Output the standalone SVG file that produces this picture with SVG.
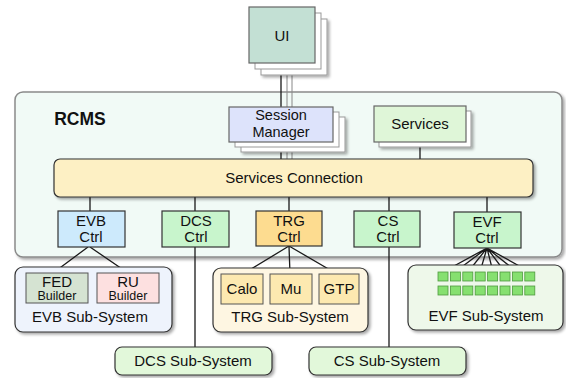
<svg xmlns="http://www.w3.org/2000/svg" width="566" height="378" viewBox="0 0 566 378">
<defs>
<filter id="sh" x="-10%" y="-10%" width="130%" height="140%">
<feGaussianBlur in="SourceAlpha" stdDeviation="1.5"/>
<feOffset dx="2" dy="2" result="b"/>
<feComponentTransfer><feFuncA type="linear" slope="0.35"/></feComponentTransfer>
<feMerge><feMergeNode/><feMergeNode in="SourceGraphic"/></feMerge>
</filter>
</defs>
<style>
text{font-family:"Liberation Sans",Arial,sans-serif;fill:#111;text-anchor:middle}
.t{font-size:15px}
.m{font-size:14.5px}
.s{font-size:12.5px}
.box{stroke:#333;stroke-width:1.2}
.back{fill:#fff;stroke:#999;stroke-width:1}
.ln{stroke:#1a1a1a;stroke-width:1.3;fill:none}
.lg{stroke:#888;stroke-width:1;fill:none}
.sq{fill:#86e070;stroke:#4f9a3f;stroke-width:0.8}
</style>
<rect width="566" height="378" fill="#fff"/>
<g id="rcms">
<rect x="15" y="92" width="547" height="165" rx="8" fill="#f1faf6" stroke="#8a8a8a" stroke-width="1.5" filter="url(#sh)"/>
<text x="80" y="125" style="font-size:17.5px;font-weight:bold">RCMS</text>
</g>
<g id="connectors">
<line class="lg" x1="292" y1="75" x2="292" y2="159"/>
<line class="lg" x1="287" y1="69" x2="287" y2="159"/>
<line class="ln" x1="281" y1="63" x2="281" y2="159"/>
<line class="ln" x1="420" y1="142" x2="420" y2="159"/>
<line class="ln" x1="90" y1="197" x2="90" y2="211"/>
<line class="ln" x1="195" y1="197" x2="195" y2="347"/>
<line class="ln" x1="289" y1="197" x2="289" y2="211"/>
<line class="ln" x1="389" y1="197" x2="389" y2="347"/>
<line class="ln" x1="487" y1="197" x2="487" y2="212"/>
<path class="ln" d="M88 247L53 273M90 247L128 273"/>
<path class="ln" d="M289 246L243 274M289 246L290 274M289 246L337 274"/>
<path class="ln" stroke-width="1" d="M487 248L443 272M487 248L455 272M487 248L468 272M487 248L480 272M487 248L493 272M487 248L505 272M487 248L517 272M487 248L530 272"/>
</g>
<g id="ui">
<rect class="back" x="261" y="19" width="66" height="56" filter="url(#sh)"/>
<rect class="back" x="255" y="13" width="66" height="56"/>
<rect x="249" y="7" width="66" height="56" fill="#c3e0d4" stroke="#666" stroke-width="1.2"/>
<text class="t" x="282" y="41">UI</text>
</g>
<g id="session-manager">
<rect class="back" x="241" y="117" width="104" height="35" filter="url(#sh)"/>
<rect class="back" x="235" y="112" width="104" height="35"/>
<rect x="229" y="107" width="104" height="35" fill="#dde3fb" stroke="#666" stroke-width="1.2"/>
<text class="m" x="281" y="120">Session</text>
<text class="m" x="281" y="136.5">Manager</text>
</g>
<g id="services">
<rect class="back" x="379" y="111" width="92" height="36" filter="url(#sh)"/>
<rect x="374" y="106" width="92" height="36" fill="#dff6d8" stroke="#666" stroke-width="1.2"/>
<text class="t" x="420" y="129">Services</text>
</g>
<g id="services-connection">
<rect class="box" x="54" y="159" width="479" height="38" rx="6" fill="#fdf0c4" filter="url(#sh)"/>
<text class="t" x="294" y="183">Services Connection</text>
</g>
<g id="evb-ctrl">
<rect class="box" x="58" y="211" width="67" height="36" fill="#cdeafc"/>
<text class="t" x="91" y="226">EVB</text>
<text class="t" x="91" y="242">Ctrl</text>
</g>
<g id="dcs-ctrl">
<rect class="box" x="162" y="211" width="67" height="36" fill="#c8f5cc"/>
<text class="t" x="196" y="226">DCS</text>
<text class="t" x="196" y="242">Ctrl</text>
</g>
<g id="trg-ctrl">
<rect class="box" x="256" y="211" width="66" height="35" fill="#fddc90"/>
<text class="t" x="289" y="226">TRG</text>
<text class="t" x="289" y="242">Ctrl</text>
</g>
<g id="cs-ctrl">
<rect class="box" x="354" y="211" width="66" height="36" fill="#c8f5cc"/>
<text class="t" x="388" y="226">CS</text>
<text class="t" x="388" y="242">Ctrl</text>
</g>
<g id="evf-ctrl">
<rect class="box" x="454" y="212" width="67" height="36" fill="#c8f5cc"/>
<text class="t" x="487" y="227">EVF</text>
<text class="t" x="487" y="243">Ctrl</text>
</g>
<g id="evb-subsystem">
<rect class="box" x="15" y="267" width="157" height="65" rx="8" fill="#eef3fc" filter="url(#sh)"/>
<rect x="26" y="273" width="62" height="30" fill="#d5e3d2" stroke="#555"/>
<text class="t" x="57" y="287">FED</text>
<text class="s" x="57" y="299.5">Builder</text>
<rect x="97" y="273" width="62" height="30" fill="#fde0e0" stroke="#555"/>
<text class="t" x="128" y="287">RU</text>
<text class="s" x="128" y="299.5">Builder</text>
<text class="t" x="90" y="322">EVB Sub-System</text>
</g>
<g id="trg-subsystem">
<rect class="box" x="213" y="268" width="155" height="64" rx="8" fill="#fef6e2" filter="url(#sh)"/>
<rect x="221" y="274" width="42" height="30" fill="#fde9b0" stroke="#555"/>
<text class="t" x="242" y="294">Calo</text>
<rect x="270" y="274" width="42" height="30" fill="#fde9b0" stroke="#555"/>
<text class="t" x="291" y="294">Mu</text>
<rect x="319" y="274" width="40" height="30" fill="#fde9b0" stroke="#555"/>
<text class="t" x="339" y="294">GTP</text>
<text class="t" x="290" y="322">TRG Sub-System</text>
</g>
<g id="evf-subsystem">
<rect class="box" x="408" y="265" width="155" height="65" rx="8" fill="#eef8ea" filter="url(#sh)"/>
<rect class="sq" x="438" y="272" width="10" height="9"/>
<rect class="sq" x="450.4" y="272" width="10" height="9"/>
<rect class="sq" x="462.8" y="272" width="10" height="9"/>
<rect class="sq" x="475.2" y="272" width="10" height="9"/>
<rect class="sq" x="487.6" y="272" width="10" height="9"/>
<rect class="sq" x="500" y="272" width="10" height="9"/>
<rect class="sq" x="512.4" y="272" width="10" height="9"/>
<rect class="sq" x="524.8" y="272" width="10" height="9"/>
<rect class="sq" x="438" y="286" width="10" height="9"/>
<rect class="sq" x="450.4" y="286" width="10" height="9"/>
<rect class="sq" x="462.8" y="286" width="10" height="9"/>
<rect class="sq" x="475.2" y="286" width="10" height="9"/>
<rect class="sq" x="487.6" y="286" width="10" height="9"/>
<rect class="sq" x="500" y="286" width="10" height="9"/>
<rect class="sq" x="512.4" y="286" width="10" height="9"/>
<rect class="sq" x="524.8" y="286" width="10" height="9"/>
<text class="t" x="486" y="321">EVF Sub-System</text>
</g>
<g id="dcs-subsystem">
<rect class="box" x="115" y="347" width="157" height="28" rx="7" fill="#e2f8da" filter="url(#sh)"/>
<text class="t" x="193" y="366">DCS Sub-System</text>
</g>
<g id="cs-subsystem">
<rect class="box" x="309" y="347" width="157" height="28" rx="7" fill="#e2f8da" filter="url(#sh)"/>
<text class="t" x="387" y="366">CS Sub-System</text>
</g>
</svg>
